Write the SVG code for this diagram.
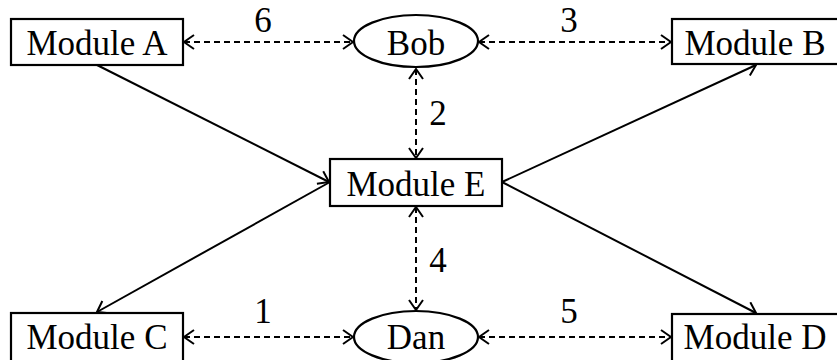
<svg xmlns="http://www.w3.org/2000/svg" width="837" height="360" viewBox="0 0 837 360">
  <style>
    .box { fill: #ffffff; stroke: #000000; stroke-width: 2.2; }
    .lbl { font-family: "Liberation Serif", "Times New Roman", serif; font-size: 35px; fill: #000000; text-anchor: middle; }
    .solid { fill: none; stroke: #000000; stroke-width: 2; marker-end: url(#arrow); }
    .dash { fill: none; stroke: #000000; stroke-width: 2; stroke-dasharray: 6 4; marker-start: url(#arrow); marker-end: url(#arrow); }
  </style>
  <defs>
    <marker id="arrow" viewBox="0 0 12 16" refX="11" refY="8" markerWidth="12" markerHeight="16" markerUnits="userSpaceOnUse" orient="auto-start-reverse">
      <path d="M1,1 L11,8 L1,15" fill="none" stroke="#000000" stroke-width="2"/>
    </marker>
  </defs>
  <rect width="837" height="360" fill="#ffffff"/>

  <!-- connectors -->
  <g id="connectors">
    <path class="dash" d="M184,42 L353,42"/>
    <path class="dash" d="M479,42 L671,42"/>
    <path class="dash" d="M416,69 L416,158"/>
    <path class="dash" d="M416,207 L416,310"/>
    <path class="dash" d="M184,337 L353,337"/>
    <path class="dash" d="M479,337 L671,337"/>
    <path class="solid" d="M97,65 L329,182"/>
    <path class="solid" d="M502,182 L756,65"/>
    <path class="solid" d="M330,182 L97,312"/>
    <path class="solid" d="M502,182 L756,313"/>
    <text class="lbl" x="263" y="32">6</text>
    <text class="lbl" x="569" y="32">3</text>
    <text class="lbl" x="438" y="125">2</text>
    <text class="lbl" x="438" y="272">4</text>
    <text class="lbl" x="263" y="323">1</text>
    <text class="lbl" x="569" y="323">5</text>
  </g>

  <!-- nodes -->
  <g id="module-a">
    <rect class="box" x="11" y="19" width="172" height="46"/>
    <text class="lbl" x="97" y="55">Module A</text>
  </g>
  <g id="bob">
    <ellipse class="box" cx="416" cy="41" rx="62" ry="26"/>
    <text class="lbl" x="416" y="55">Bob</text>
  </g>
  <g id="module-b">
    <rect class="box" x="672" y="19" width="172" height="45"/>
    <text class="lbl" x="755" y="55">Module B</text>
  </g>
  <g id="module-e">
    <rect class="box" x="330" y="159" width="172" height="47"/>
    <text class="lbl" x="416" y="196">Module E</text>
  </g>
  <g id="module-c">
    <rect class="box" x="11" y="313" width="172" height="50"/>
    <text class="lbl" x="97" y="349">Module C</text>
  </g>
  <g id="dan">
    <ellipse class="box" cx="416" cy="337" rx="62" ry="26"/>
    <text class="lbl" x="416" y="349">Dan</text>
  </g>
  <g id="module-d">
    <rect class="box" x="672" y="314" width="172" height="50"/>
    <text class="lbl" x="755" y="349">Module D</text>
  </g>
</svg>
